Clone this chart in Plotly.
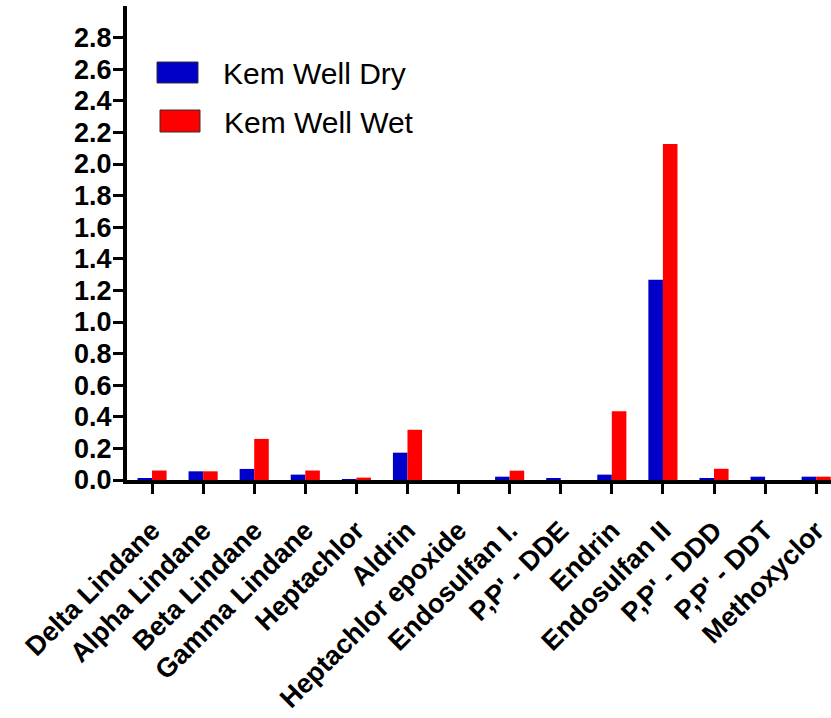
import plotly.graph_objects as go

# Pesticide residues measured at Kem Well, dry vs wet season
compounds = [
    "Delta Lindane", "Alpha Lindane", "Beta Lindane", "Gamma Lindane",
    "Heptachlor", "Aldrin", "Heptachlor epoxide", "Endosulfan I.",
    "P,P' - DDE", "Endrin", "Endosulfan II", "P,P' - DDD",
    "P,P' - DDT", "Methoxyclor",
]
dry_values = [0.01, 0.055, 0.07, 0.034, 0.002, 0.173, 0.0, 0.021,
              0.008, 0.034, 1.267, 0.008, 0.021, 0.021]
wet_values = [0.06, 0.055, 0.26, 0.06, 0.015, 0.318, 0.0, 0.059,
              0.0, 0.435, 2.127, 0.071, 0.0, 0.021]

y_tick_values = [0.0, 0.2, 0.4, 0.6, 0.8, 1.0, 1.2, 1.4,
                 1.6, 1.8, 2.0, 2.2, 2.4, 2.6, 2.8]

dry_name = "Kem Well Dry"
wet_name = "Kem Well Wet"
dry_color = "#0000C8"
wet_color = "#FF0000"

W, H = 831, 718
M_L, M_R, M_T, M_B = 127, 0, 6, 238
plot_w = W - M_L - M_R
plot_h = H - M_T - M_B

fig = go.Figure()
fig.add_trace(go.Bar(x=compounds, y=dry_values, name=dry_name,
                     marker=dict(color=dry_color, line=dict(width=0))))
fig.add_trace(go.Bar(x=compounds, y=wet_values, name=wet_name,
                     marker=dict(color=wet_color, line=dict(width=0))))

tick_font = dict(family="Liberation Sans, Arial, sans-serif", size=27,
                 color="black", weight="bold")

fig.update_layout(
    width=W, height=H,
    margin=dict(l=M_L, r=M_R, t=M_T, b=M_B, pad=0, autoexpand=False),
    paper_bgcolor="white", plot_bgcolor="white",
    barmode="group", bargap=0.43, bargroupgap=0.0,
    showlegend=False,
    xaxis=dict(
        type="category", range=[-0.49, 13.29], automargin=False,
        showline=True, linecolor="black", linewidth=4,
        ticks="outside", ticklen=10, tickwidth=3, tickcolor="black",
        tickangle=-45, tickfont=tick_font, ticklabelstandoff=10,
        showgrid=False, zeroline=False,
    ),
    yaxis=dict(
        range=[0, 3.0], tickvals=y_tick_values, tickformat=".1f",
        automargin=False,
        showline=True, linecolor="black", linewidth=4,
        ticks="outside", ticklen=10, tickwidth=3, tickcolor="black",
        tickfont=tick_font, ticklabelstandoff=-4,
        showgrid=False, zeroline=False,
    ),
)


def px_x(px):
    return (px - M_L) / plot_w


def px_y(py):
    return (M_T + plot_h - py) / plot_h


# Legend drawn as large swatches with labels
legend_rows = [
    (dry_name, dry_color, 157, 198, 62, 83, 221, 73),
    (wet_name, wet_color, 160, 200, 110, 132, 222, 122),
]
for name, color, x0, x1, y0, y1, tx, ty in legend_rows:
    fig.add_shape(type="rect", xref="paper", yref="paper",
                  x0=px_x(x0), x1=px_x(x1), y0=px_y(y1), y1=px_y(y0),
                  fillcolor=color, line=dict(color="#333333", width=1))
    fig.add_annotation(xref="paper", yref="paper", x=px_x(tx), y=px_y(ty),
                       text=name, showarrow=False, xanchor="left",
                       yanchor="middle",
                       font=dict(family="Liberation Sans, Arial, sans-serif",
                                 size=30, color="black"))

fig.write_html("out.html")
